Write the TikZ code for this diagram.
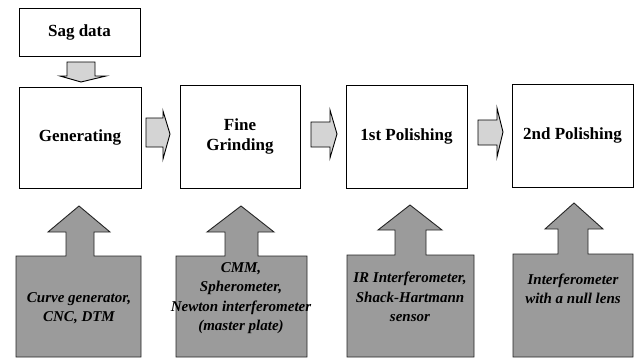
\documentclass[tikz,border=0pt]{standalone}
\usepackage{fontspec}
\setmainfont{Liberation Serif}
\definecolor{toolgray}{RGB}{155,155,155}
\definecolor{arrowgray}{RGB}{212,212,212}
\begin{document}
\begin{tikzpicture}[x=1pt,y=-1pt,
  stagebox/.style={draw=black, line width=0.9pt, fill=white, inner sep=2pt,
    align=center, font=\fontsize{17}{20}\selectfont\bfseries},
  toolshape/.style={draw=black!85, line width=0.9pt, fill=toolgray},
  tooltext/.style={align=center, inner sep=0pt,
    font=\fontsize{15}{19.5}\selectfont\bfseries\itshape},
  smallarrow/.style={draw=black, line width=0.9pt, fill=arrowgray}]
\useasboundingbox (0,0) rectangle (642,359);
\fill[white] (0,0) rectangle (642,359);

% top process boxes
\node[stagebox, minimum width=121pt, minimum height=48pt] (sag) at (79.5,32) {Sag data};
\node[stagebox, minimum width=122pt, minimum height=101pt] (gen) at (80,137.5) {Generating};
\node[stagebox, minimum width=120pt, minimum height=103pt] (fine) at (240,136.5) {Fine\\Grinding};
\node[stagebox, minimum width=121pt, minimum height=103pt] (pol1) at (406.5,136.5) {1st Polishing};
\node[stagebox, minimum width=121pt, minimum height=103pt] (pol2) at (572.5,135.5) {2nd Polishing};

% small block arrows between boxes
\draw[smallarrow] (67,62) -- (95,62) -- (95,76) -- (106,76) -- (81,82) -- (60,76) -- (67,76) -- cycle;
\draw[smallarrow] (146,118) -- (163,118) -- (163,111) -- (170,134) -- (163,159) -- (163,147) -- (146,147) -- cycle;
\draw[smallarrow] (311,122) -- (330,122) -- (330,110) -- (337,134) -- (330,158) -- (330,147) -- (311,147) -- cycle;
\draw[smallarrow] (478,120) -- (497,120) -- (497,108) -- (503,132) -- (497,157) -- (497,145) -- (478,145) -- cycle;

% bottom tool arrows
\draw[toolshape] (16,357) -- (16,256) -- (66,256) -- (66,232) -- (48,232) -- (79,206)
  -- (110,232) -- (94,232) -- (94,256) -- (141,256) -- (141,357) -- cycle;
\draw[toolshape] (176,357) -- (176,256) -- (225,256) -- (225,232) -- (207,232) -- (241,206)
  -- (274,232) -- (258,232) -- (258,256) -- (307,256) -- (307,357) -- cycle;
\draw[toolshape] (347,357) -- (347,255) -- (395,255) -- (395,230) -- (378,230) -- (410,205)
  -- (442,230) -- (426,230) -- (426,255) -- (474,255) -- (474,357) -- cycle;
\draw[toolshape] (513,357) -- (513,254) -- (558,254) -- (558,229) -- (545,229) -- (574,203)
  -- (603,229) -- (588,229) -- (588,254) -- (633,254) -- (633,357) -- cycle;

\node[tooltext] (t1) at (79,308) {Curve generator,\\CNC, DTM};
\node[tooltext] (t2) at (241,298) {CMM,\\Spherometer,\\Newton interferometer\\(master plate)};
\node[tooltext] (t3) at (410,297) {IR Interferometer,\\Shack-Hartmann\\sensor};
\node[tooltext] (t4) at (573,289) {Interferometer\\with a null lens};
\end{tikzpicture}
\end{document}
